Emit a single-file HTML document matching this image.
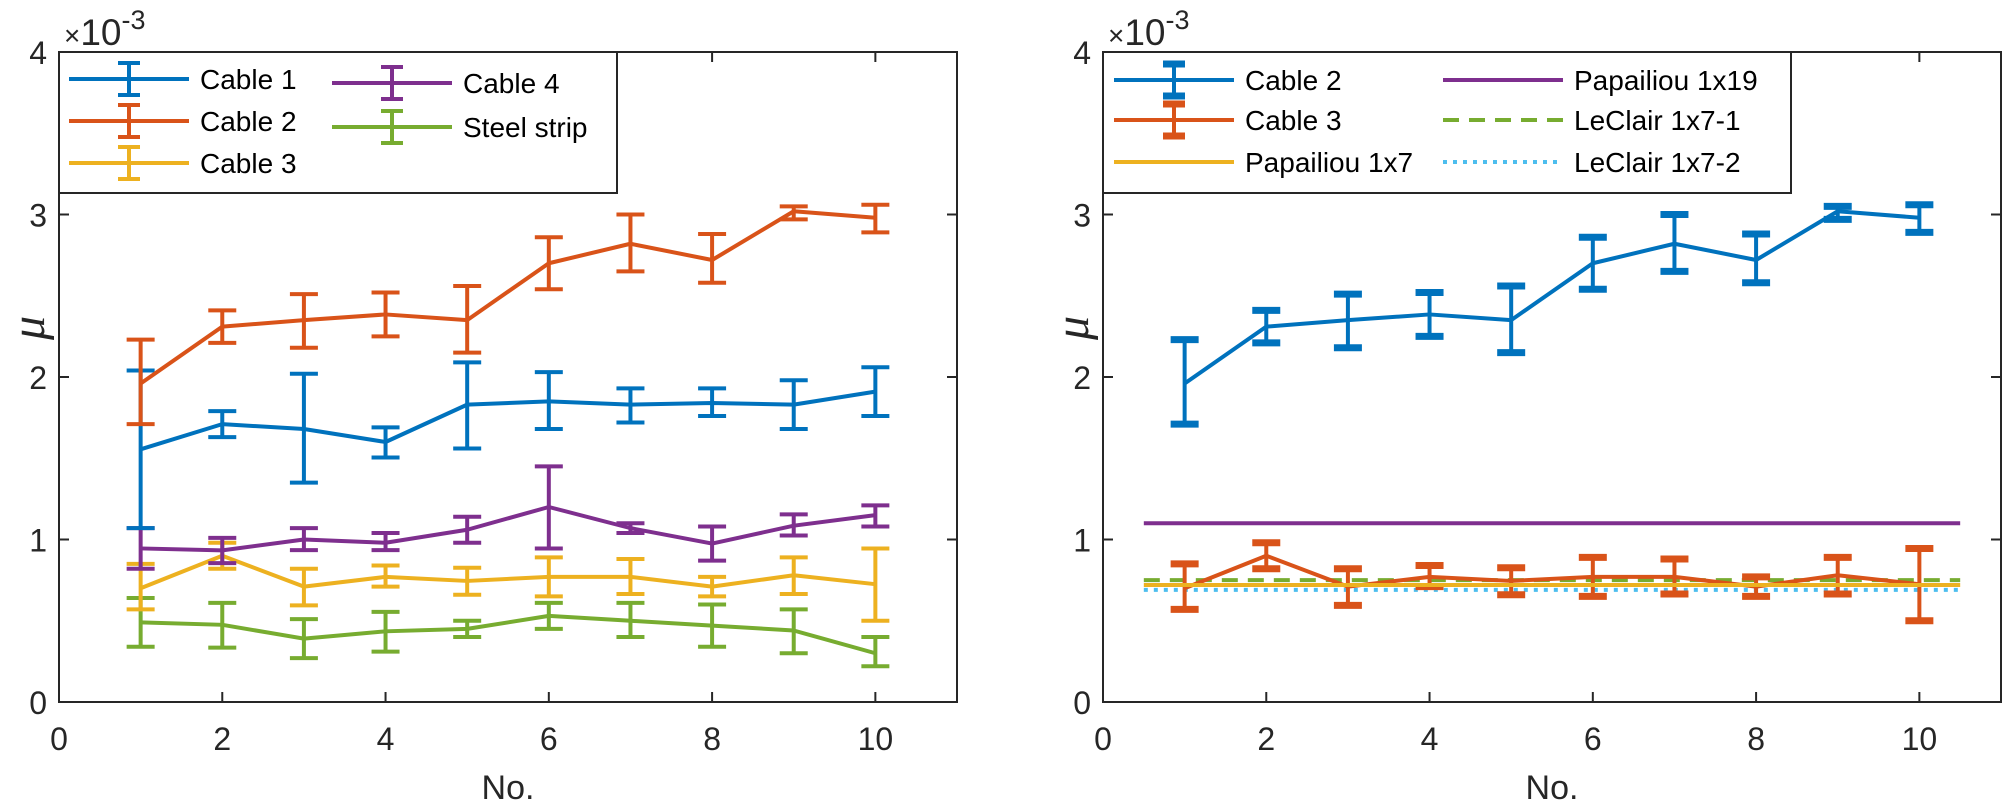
<!DOCTYPE html>
<html><head><meta charset="utf-8"><style>
html,body{margin:0;padding:0;background:#fff;}
svg{display:block;font-family:"Liberation Sans",Arial,sans-serif;}
</style></head><body>
<svg id="fig" width="2007" height="807" viewBox="0 0 2007 807" xmlns="http://www.w3.org/2000/svg"></svg>
<script>
const categories=[1,2,3,4,5,6,7,8,9,10];
const xTicks=[0,2,4,6,8,10];
const yTicks=[0,1,2,3,4];
const cable1=[1.555,1.71,1.68,1.60,1.83,1.85,1.83,1.84,1.83,1.91];
const cable1Hi=[2.04,1.79,2.02,1.69,2.09,2.03,1.93,1.93,1.98,2.06];
const cable1Lo=[1.07,1.63,1.35,1.505,1.56,1.68,1.72,1.76,1.68,1.76];
const cable2=[1.96,2.31,2.35,2.385,2.35,2.70,2.82,2.72,3.02,2.98];
const cable2Hi=[2.23,2.41,2.51,2.52,2.56,2.86,3.0,2.88,3.05,3.06];
const cable2Lo=[1.71,2.21,2.18,2.25,2.15,2.54,2.65,2.58,2.97,2.89];
const cable3=[0.70,0.90,0.71,0.77,0.745,0.77,0.77,0.71,0.78,0.725];
const cable3Hi=[0.85,0.98,0.82,0.84,0.826,0.89,0.88,0.77,0.89,0.945];
const cable3Lo=[0.57,0.82,0.595,0.71,0.66,0.65,0.665,0.65,0.665,0.50];
const cable4=[0.945,0.933,1.0,0.98,1.06,1.2,1.07,0.975,1.085,1.15];
const cable4Hi=[1.07,1.01,1.07,1.04,1.14,1.45,1.10,1.08,1.155,1.21];
const cable4Lo=[0.82,0.855,0.935,0.935,0.98,0.945,1.04,0.87,1.025,1.08];
const steel=[0.49,0.475,0.39,0.435,0.45,0.53,0.50,0.47,0.44,0.30];
const steelHi=[0.64,0.61,0.51,0.555,0.50,0.61,0.61,0.60,0.57,0.40];
const steelLo=[0.34,0.335,0.27,0.31,0.40,0.45,0.40,0.34,0.30,0.22];
const refRange=[0.5,10.5];
const papailiou19=1.1, leclair1=0.75, papailiou7=0.72, leclair2=0.69;

const NS="http://www.w3.org/2000/svg";
const svg=document.getElementById('fig');
function mk(tag,attrs,parent){const e=document.createElementNS(NS,tag);for(const k in attrs)e.setAttribute(k,attrs[k]);(parent||svg).appendChild(e);return e;}
const C={blue:'#0072BD',orange:'#D95319',yellow:'#EDB120',purple:'#7E2F8E',green:'#77AC30',cyan:'#4DBEEE'};
const Y0=702,Y4=52,W=898;
function axes(x0,name){
  const sx=v=>x0+v*W/11, sy=v=>Y0-v*(Y0-Y4)/4;
  const g=mk('g',{});
  
  
  xTicks.forEach(t=>{
    const l=mk('line',{x1:sx(t),x2:sx(t),y1:Y0,y2:Y0-10,stroke:'#262626','stroke-width':2},g);
    
    mk('line',{x1:sx(t),x2:sx(t),y1:Y4,y2:Y4+10,stroke:'#262626','stroke-width':2},g);
    const tx=mk('text',{x:sx(t),y:750,'font-size':32,'text-anchor':'middle',fill:'#262626'},g);tx.textContent=t;
    
  });
  yTicks.forEach(t=>{
    mk('line',{x1:x0,x2:x0+10,y1:sy(t),y2:sy(t),stroke:'#262626','stroke-width':2},g);
    mk('line',{x1:x0+W-10,x2:x0+W,y1:sy(t),y2:sy(t),stroke:'#262626','stroke-width':2},g);
    const tx=mk('text',{x:x0-12,y:sy(t)+12,'font-size':32,'text-anchor':'end',fill:'#262626'},g);tx.textContent=t;
    
  });
  const xl=mk('text',{x:x0+W/2,y:799,'font-size':34,'text-anchor':'middle',fill:'#262626'},g);xl.textContent='No.';
  
  const yl=mk('text',{x:0,y:0,'font-size':48,'font-style':'italic','font-family':'"Liberation Serif",serif','text-anchor':'middle',fill:'#262626',transform:`translate(${x0-15},328) rotate(-90)`},g);yl.textContent='μ';
  
  const ex=mk('text',{x:x0+5,y:45,'font-size':37,fill:'#262626'},g);
  ex.innerHTML='<tspan font-size="28">×</tspan>10<tspan dy="-16" font-size="27">-3</tspan>';
  
  return {sx,sy,g};
}
function series(ax,vals,hi,lo,color,name,capW,capT){
  const g=mk('g',{});
  
  
  mk('polyline',{points:categories.map((c,i)=>ax.sx(c)+','+ax.sy(vals[i])).join(' '),fill:'none',stroke:color,'stroke-width':4,'stroke-linejoin':'round'},g);
  categories.forEach((c,i)=>{
    const x=ax.sx(c);
    mk('line',{x1:x,x2:x,y1:ax.sy(hi[i]),y2:ax.sy(lo[i]),stroke:color,'stroke-width':4},g);
    [hi[i],lo[i]].forEach(v=>mk('line',{x1:x-capW/2,x2:x+capW/2,y1:ax.sy(v),y2:ax.sy(v),stroke:color,'stroke-width':capT},g));
  });
}
function hline(ax,v,color,dash,name){
  const l=mk('line',{x1:ax.sx(refRange[0]),x2:ax.sx(refRange[1]),y1:ax.sy(v),y2:ax.sy(v),stroke:color,'stroke-width':4,'stroke-dasharray':dash||'none'});
  
}
function legendEntry(x,y,color,label,bar,dash,t){
  const g=mk('g',{});
  
  
  mk('line',{x1:x,x2:x+120,y1:y,y2:y,stroke:color,'stroke-width':4,'stroke-dasharray':dash||'none'},g);
  if(bar){mk('line',{x1:x+60,x2:x+60,y1:y-16,y2:y+16,stroke:color,'stroke-width':4},g);
    [y-16,y+16].forEach(yy=>mk('line',{x1:x+49,x2:x+71,y1:yy,y2:yy,stroke:color,'stroke-width':t},g));}
  const tx=mk('text',{x:x+131,y:y+10,'font-size':28,fill:'#000'},g);tx.textContent=label;
}
// Left
const A=axes(59,'left-axes');
series(A,steel,steelHi,steelLo,C.green,'series-steel-strip',28,4);
series(A,cable3,cable3Hi,cable3Lo,C.yellow,'series-cable-3',28,4);
series(A,cable4,cable4Hi,cable4Lo,C.purple,'series-cable-4',28,4);
series(A,cable1,cable1Hi,cable1Lo,C.blue,'series-cable-1',28,4);
series(A,cable2,cable2Hi,cable2Lo,C.orange,'series-cable-2',28,4);
mk('rect',{x:59,y:52,width:W,height:650,fill:'none',stroke:'#262626','stroke-width':2});
const lgL=mk('rect',{x:59,y:52,width:558,height:141,fill:'#fff',stroke:'#262626','stroke-width':2});

legendEntry(69,79,C.blue,'Cable 1',true,null,4);
legendEntry(69,121,C.orange,'Cable 2',true,null,4);
legendEntry(69,163,C.yellow,'Cable 3',true,null,4);
legendEntry(332,83,C.purple,'Cable 4',true,null,4);
legendEntry(332,127,C.green,'Steel strip',true,null,4);
// Right
const B=axes(1103,'right-axes');
hline(B,papailiou19,C.purple,null,'papailiou-1x19-line');
hline(B,leclair1,C.green,'16 10','leclair-1x7-1-line');
hline(B,leclair2,C.cyan,'4 6','leclair-1x7-2-line');
series(B,cable3,cable3Hi,cable3Lo,C.orange,'series-cable-3-right',28,7);
hline(B,papailiou7,C.yellow,null,'papailiou-1x7-line');
series(B,cable2,cable2Hi,cable2Lo,C.blue,'series-cable-2-right',28,7);
mk('rect',{x:1103,y:52,width:W,height:650,fill:'none',stroke:'#262626','stroke-width':2});
const lgR=mk('rect',{x:1103,y:52,width:688,height:141,fill:'#fff',stroke:'#262626','stroke-width':2});

legendEntry(1114,80,C.blue,'Cable 2',true,null,7);
legendEntry(1114,120,C.orange,'Cable 3',true,null,7);
legendEntry(1114,162,C.yellow,'Papailiou 1x7',false);
legendEntry(1443,80,C.purple,'Papailiou 1x19',false);
legendEntry(1443,120,C.green,'LeClair 1x7-1',false,'16 10');
legendEntry(1443,162,C.cyan,'LeClair 1x7-2',false,'4 6');
</script>
</body></html>
